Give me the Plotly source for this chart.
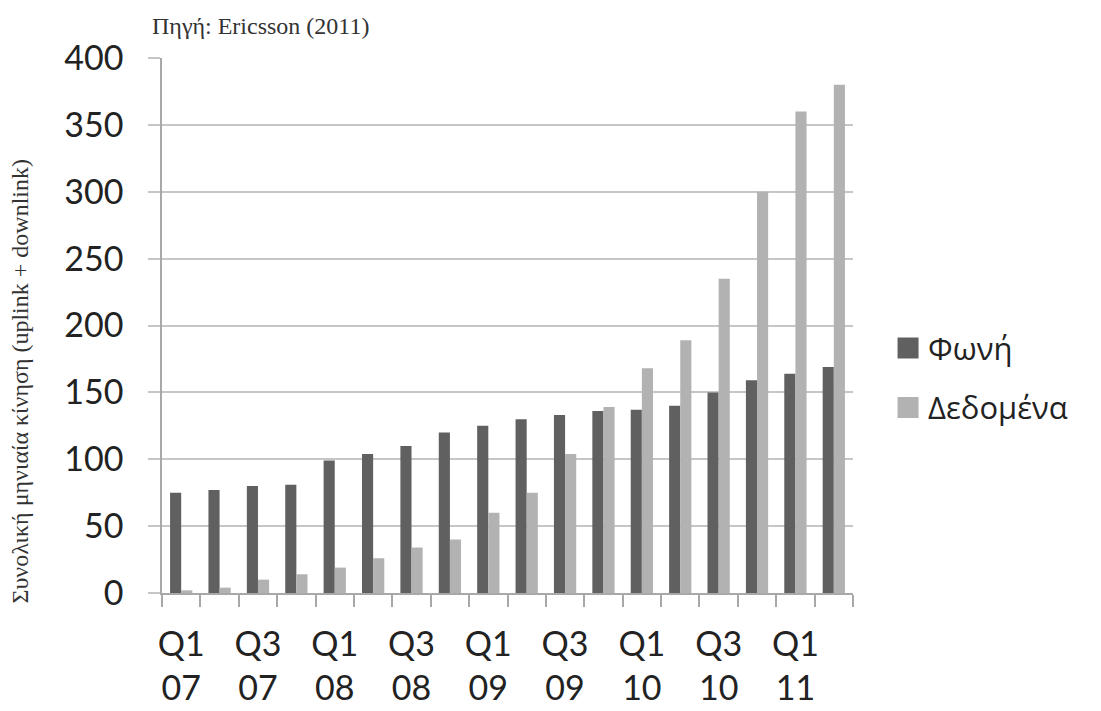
import plotly.graph_objects as go

quarters = ["Q1 07", "Q2 07", "Q3 07", "Q4 07", "Q1 08", "Q2 08", "Q3 08", "Q4 08",
            "Q1 09", "Q2 09", "Q3 09", "Q4 09", "Q1 10", "Q2 10", "Q3 10", "Q4 10",
            "Q1 11", "Q2 11"]
voice = [75, 77, 80, 81, 99, 104, 110, 120, 125, 130, 133, 136, 137, 140, 150, 159, 164, 169]
data = [2, 4, 10, 14, 19, 26, 34, 40, 60, 75, 104, 139, 168, 189, 235, 300, 360, 380]
y_ticks = [0, 50, 100, 150, 200, 250, 300, 350, 400]

series_names = ["Φωνή", "Δεδομένα"]
series_colors = ["#606060", "#b2b2b2"]

x = list(range(len(quarters)))
label_pos = x[::2]
label_text = [quarters[i].replace(" ", "<br>") for i in label_pos]

grid = "#c6c6c6"
axis_line = "#a8a8a8"
label_font = dict(family="Lato, Open Sans, sans-serif", size=34, color="#222222")
serif_font = dict(family="Liberation Serif, Times New Roman, serif", size=24, color="#333333")

fig = go.Figure()
for name, vals, color in zip(series_names, [voice, data], series_colors):
    fig.add_trace(go.Bar(x=x, y=vals, name=name, showlegend=False,
                         marker=dict(color=color, line_width=0)))

# legend entries with larger square swatches
for i, (name, color) in enumerate(zip(series_names, series_colors)):
    fig.add_trace(go.Scatter(x=[None], y=[None], mode="markers", name=name,
                             legendgroup=f"g{i}",
                             marker=dict(symbol="square", size=16, color=color,
                                         line=dict(width=5, color=color))))

fig.update_layout(
    width=1101, height=711,
    margin=dict(l=162, r=248, t=58, b=118),
    paper_bgcolor="white", plot_bgcolor="white",
    barmode="group", bargap=0.42, bargroupgap=0,
    showlegend=True,
    legend=dict(x=1.0507, y=0.402, xanchor="left", yanchor="middle",
                font=dict(family="Open Sans, sans-serif", size=31, color="#222222"),
                tracegroupgap=16, bgcolor="rgba(0,0,0,0)"),
    annotations=[
        dict(text="Πηγή: Ericsson (2011)", xref="paper", yref="paper",
             x=-0.018, y=1.0, xanchor="left", yanchor="bottom", yshift=17,
             showarrow=False, font=serif_font),
        dict(text="Συνολική μηνιαία κίνηση (uplink + downlink)", xref="paper", yref="paper",
             x=-0.205, y=0.396, xanchor="center", yanchor="middle", textangle=-90,
             showarrow=False, font=serif_font),
    ],
)

fig.update_xaxes(
    range=[-0.5, len(quarters) - 0.5],
    tickvals=label_pos, ticktext=label_text,
    ticks="", tickfont=label_font,
    ticklabelstandoff=20, automargin=False,
    showline=True, linecolor=axis_line, linewidth=1.5,
    showgrid=False, zeroline=False,
    minor=dict(tick0=-0.5, dtick=1, ticks="outside", ticklen=12, tickcolor=axis_line,
               tickwidth=1.5, showgrid=False),
)
fig.update_yaxes(
    range=[0, 400], tickvals=y_ticks,
    ticks="outside", ticklen=12, tickcolor=grid, tickwidth=1.5,
    tickfont=label_font, ticklabelstandoff=18, automargin=False,
    showgrid=True, gridcolor=grid, gridwidth=1.5,
    showline=True, linecolor=axis_line, linewidth=1.5,
    zeroline=False,
)

fig.write_html("out.html")
